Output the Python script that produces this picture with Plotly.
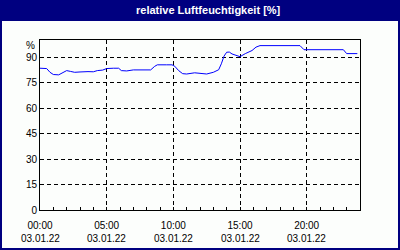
import plotly.graph_objects as go
import pandas as pd

title = "relative Luftfeuchtigkeit [%]"
date = "2022-01-03"
times = ["00:00", "00:30", "00:45", "01:00", "01:24", "01:42", "02:00", "02:18", "02:36",
         "03:00", "03:18", "03:36", "04:00", "04:18", "04:42", "05:00", "05:30", "05:54",
         "06:06", "06:30", "07:00", "07:30", "08:00", "08:18", "08:36", "08:48", "09:30",
         "09:54", "10:06", "10:24", "10:42", "11:00", "11:36", "12:00", "12:30", "13:00",
         "13:24", "13:36", "13:48", "14:00", "14:12", "14:24", "14:45", "15:00", "15:24",
         "15:54", "16:12", "16:30", "19:30", "19:48", "22:45", "23:00", "23:48"]
humidity = [83.4, 83.2, 81.0, 79.7, 79.5, 80.8, 82.0, 81.5, 81.0,
            81.2, 81.5, 81.4, 81.3, 82.0, 82.3, 83.2, 83.4, 83.4,
            82.0, 81.8, 82.4, 82.4, 82.3, 82.4, 84.5, 85.4, 85.4,
            85.4, 84.6, 82.0, 80.2, 80.0, 80.7, 80.4, 80.0, 81.0,
            82.5, 86.0, 90.5, 92.8, 92.9, 91.8, 91.0, 90.2, 92.0,
            93.8, 95.8, 96.7, 96.7, 94.3, 94.3, 92.0, 92.0]
y_tickvals = [0, 15, 30, 45, 60, 75, 90]
y_unit_label = "%"
y_unit_pos = 96.6
x_tickhours = ["00:00", "05:00", "10:00", "15:00", "20:00"]
x_date_label = "03.01.22"

x = pd.to_datetime([f"{date} {t}" for t in times])
xt = pd.to_datetime([f"{date} {t}" for t in x_tickhours])

navy = "#000080"
body = "#FCFEFC"
font = "Liberation Sans"

fig = go.Figure(go.Scatter(x=x, y=humidity, mode="lines",
                           line=dict(color="#0000FF", width=1), hoverinfo="skip"))

W, H = 400, 250
L, R, T, B = 40, 40, 40, 40
pw, ph = W - L - R, H - T - B
def px(xp): return (xp - L) / pw
def py(yp): return (H - B - yp) / ph

shapes = [
    dict(type="rect", xref="paper", yref="paper", x0=px(0), x1=px(400), y0=py(21), y1=py(0),
         fillcolor=navy, line=dict(width=0), layer="below"),
    dict(type="rect", xref="paper", yref="paper", x0=px(0), x1=px(2), y0=py(250), y1=py(0),
         fillcolor=navy, line=dict(width=0), layer="below"),
    dict(type="rect", xref="paper", yref="paper", x0=px(398), x1=px(400), y0=py(250), y1=py(0),
         fillcolor=navy, line=dict(width=0), layer="below"),
    dict(type="rect", xref="paper", yref="paper", x0=px(0), x1=px(400), y0=py(250), y1=py(248),
         fillcolor=navy, line=dict(width=0), layer="below"),
]

annotations = [dict(text="<b>" + title + "</b>", xref="paper", yref="paper",
                    x=px(208), y=py(10.5), xanchor="center", yanchor="middle",
                    showarrow=False, font=dict(family=font, size=11, color="white")),
               dict(text=y_unit_label, xref="paper", yref="y", x=px(37), y=y_unit_pos,
                    xanchor="right", yanchor="middle", showarrow=False,
                    font=dict(family=font, size=10, color="black"))]
for t in xt:
    annotations.append(dict(text=x_date_label, xref="x", yref="paper", x=t, y=py(238.5),
                            xanchor="center", yanchor="middle", showarrow=False,
                            font=dict(family=font, size=10, color="black")))

fig.update_layout(
    width=W, height=H, margin=dict(l=L, r=R, t=T, b=B),
    paper_bgcolor=body, plot_bgcolor=body, showlegend=False,
    font=dict(family=font, size=10, color="black"),
    shapes=shapes, annotations=annotations,
)
fig.update_xaxes(
    range=[pd.Timestamp(f"{date} 00:00"), pd.Timestamp(f"{date} 00:00") + pd.Timedelta(hours=24)],
    tickmode="array", tickvals=xt, ticktext=x_tickhours, ticklabelstandoff=6,
    showgrid=True, gridcolor="black", griddash="4px,3px", gridwidth=1,
    showline=True, mirror=True, linecolor="black", linewidth=1,
    ticks="inside", ticklen=3, tickcolor="black",
    minor=dict(dtick=3600000, ticks="inside", ticklen=3, tickcolor="black", showgrid=False),
    zeroline=False, fixedrange=True,
)
fig.update_yaxes(
    range=[0, 100], tickmode="array", tickvals=y_tickvals,
    showgrid=True, gridcolor="black", griddash="4px,3px", gridwidth=1,
    showline=True, mirror=True, linecolor="black", linewidth=1,
    ticks="", zeroline=False, fixedrange=True,
)
fig.write_html("out.html", config=dict(displayModeBar=False))
